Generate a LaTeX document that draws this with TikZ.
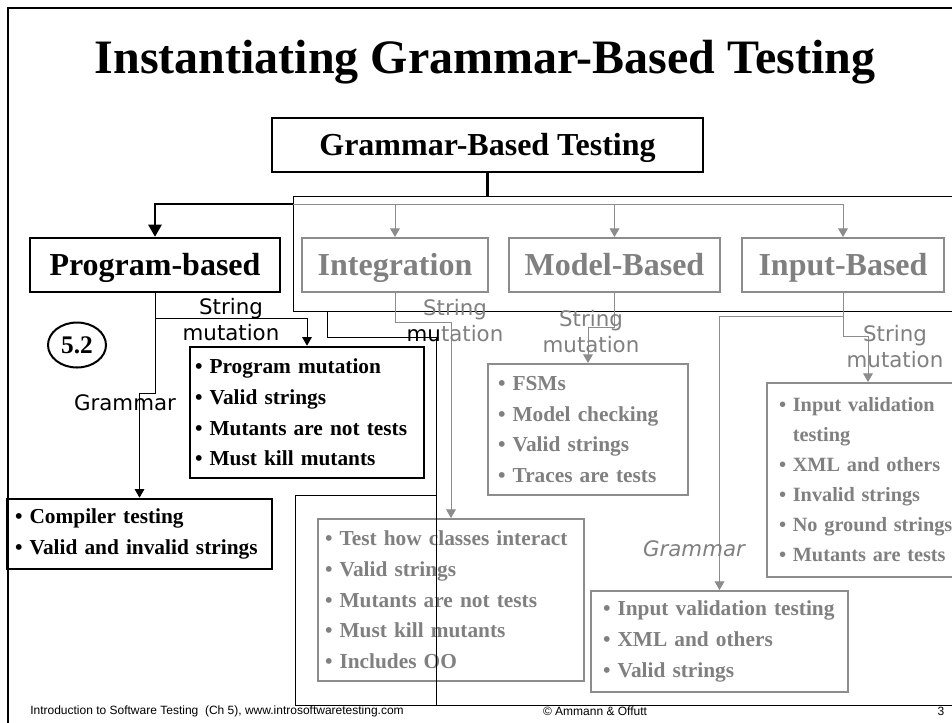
\documentclass[tikz,border=0pt]{standalone}
\usepackage{fontspec}
\setmainfont{Liberation Serif}
\setsansfont{Liberation Sans}
\newfontfamily\handfont{DejaVu Sans}
\usetikzlibrary{arrows}
\usetikzlibrary{shapes.geometric}

\begin{document}
\begin{tikzpicture}[x=0.75pt,y=-0.75pt]
\tikzstyle{main box}=[draw,line width=2pt,inner sep=0pt,align=center,text height=17pt,text depth=2pt,font=\bfseries\fontsize{24}{24}\selectfont]
\tikzstyle{gray box}=[main box,draw=black!45,line width=1.5pt,text=black!50]
\tikzstyle{list box}=[draw,line width=2pt,align=left,inner ysep=0pt,font=\bfseries\fontsize{16}{23}\selectfont]
\tikzstyle{gray list}=[list box,draw=black!45,line width=1.5pt,text=black!50]
\tikzstyle{branch label}=[align=center,inner sep=0pt,font=\handfont\fontsize{16}{19.5}\selectfont]
\tikzstyle{black arrow}=[-triangle 60,line width=0.75pt]
\tikzstyle{gray arrow}=[-triangle 60,line width=0.75pt,draw=black!45]

\useasboundingbox (0,0) rectangle (952,722);
\fill[white] (0,0) rectangle (952,722);
\draw[line width=1.5pt] (8,724) -- (8,8) -- (954,8);

\node[font=\bfseries\fontsize{36}{36}\selectfont,anchor=base] (title) at (485,73) {Instantiating Grammar-Based Testing};

\node[main box,minimum width=323.25pt,minimum height=40.5pt] (gbt) at (487.5,145) {Grammar-Based Testing};
\node[main box,minimum width=187.5pt,minimum height=40.5pt] (prog) at (155,265) {Program-based};
\node[gray box,minimum width=139.5pt,minimum height=40.5pt] (integ) at (395,265) {Integration};
\node[gray box,minimum width=158.25pt,minimum height=40.5pt] (model) at (614.5,265) {Model-Based};
\node[gray box,minimum width=151.5pt,minimum height=40.5pt] (input) at (843,265) {Input-Based};

\draw[line width=0.75pt] (293,196) rectangle (960,311);

\coordinate (drop) at (487.5,196);
\coordinate (bus) at (293,204);
\draw[line width=2pt] (gbt.south) -- (drop);
\draw[gray arrow] (bus) -| (integ.north);
\draw[gray arrow] (bus) -| (model.north);
\draw[gray arrow] (bus) -| (input.north);
\draw[black arrow,line width=1.5pt] (bus) -| (prog.north);

\node[list box,text width=168pt,inner xsep=3.75pt,minimum height=98.25pt] (progmut) at (307,412.5) {• Program mutation\\• Valid strings\\• Mutants are not tests\\• Must kill mutants};
\node[list box,text width=186.75pt,inner xsep=6pt,minimum height=52.5pt] (compiler) at (139.5,534) {• Compiler testing\\• Valid and invalid strings};

\coordinate (pm) at (155,318);
\coordinate (pg) at (155,393);
\draw[black arrow] (prog.south) -- (pm) -| (progmut.north);
\draw[black arrow] (pm) -- (pg) -| (compiler.north);

\node[branch label] (sm1) at (231,320) {String\\mutation};
\node[branch label] (gr1) at (125,403) {Grammar};
\node[ellipse,draw,line width=1.5pt,minimum width=43.5pt,minimum height=33.75pt,inner sep=0pt,font=\bfseries\fontsize{19}{19}\selectfont] (sec) at (77,345) {5.2};

\node[gray list,text width=189pt,inner xsep=5.25pt,minimum height=121.5pt] (integdet) at (451,600) {• Test how classes interact\\• Valid strings\\• Mutants are not tests\\• Must kill mutants\\• Includes OO};
\node[gray list,text width=135pt,inner xsep=7.5pt,minimum height=98.25pt] (modeldet) at (588,429.5) {• FSMs\\• Model checking\\• Valid strings\\• Traces are tests};
\node[gray list,font=\bfseries\fontsize{15.2}{22.5}\selectfont,text width=142pt,inner xsep=9pt,minimum height=145.5pt,anchor=north west] (inputdet) at (766,382) {• Input validation\\\phantom{• }testing\\• XML and others\\• Invalid strings\\• No ground strings\\• Mutants are tests};
\node[gray list,text width=174.75pt,inner xsep=9pt,minimum height=75.75pt] (grammardet) at (719.5,641.5) {• Input validation testing\\• XML and others\\• Valid strings};

\coordinate (ig) at (395,322);
\coordinate (mg) at (614.5,327);
\coordinate (ia) at (843,316);
\coordinate (ib) at (843,336);
\coordinate (ic) at (868,336);
\draw[gray arrow] (integ.south) -- (ig) -| (integdet.north);
\draw[gray arrow] (model.south) -- (mg) -| (modeldet.north);
\draw[gray arrow] (input.south) -- (ib) -- (ic) -- (ic |- inputdet.north);
\draw[gray arrow] (ia) -| (grammardet.north);

\node[branch label,text=black!50] (sm2) at (455,321) {String\\\textcolor{black}{mu}tation};
\node[branch label,text=black!50] (sm3) at (591,332) {String\\mutation};
\node[branch label,text=black!50] (sm4) at (895,346.5) {String\\mutation};
\node[branch label,text=black!50,font=\handfont\itshape\fontsize{16}{19.5}\selectfont] (gr2) at (694,549) {Grammar};

\draw[line width=0.75pt] (327,311) -- (327,337) -- (436,337) -- (436,705);
\draw[line width=0.75pt] (436,495) -- (295,495) -- (295,705) -- (960,705);

\node[anchor=west,inner sep=0pt,font=\sffamily\fontsize{9}{10}\selectfont] (foot) at (30,711) {Introduction to Software Testing\ \ (Ch 5), www.introsoftwaretesting.com};
\node[inner sep=0pt,font=\sffamily\fontsize{9}{10}\selectfont] (copy) at (595,711) {© Ammann \& Offutt};
\node[inner sep=0pt,font=\sffamily\fontsize{9}{10}\selectfont] (page) at (941,711) {3};
\end{tikzpicture}
\end{document}
